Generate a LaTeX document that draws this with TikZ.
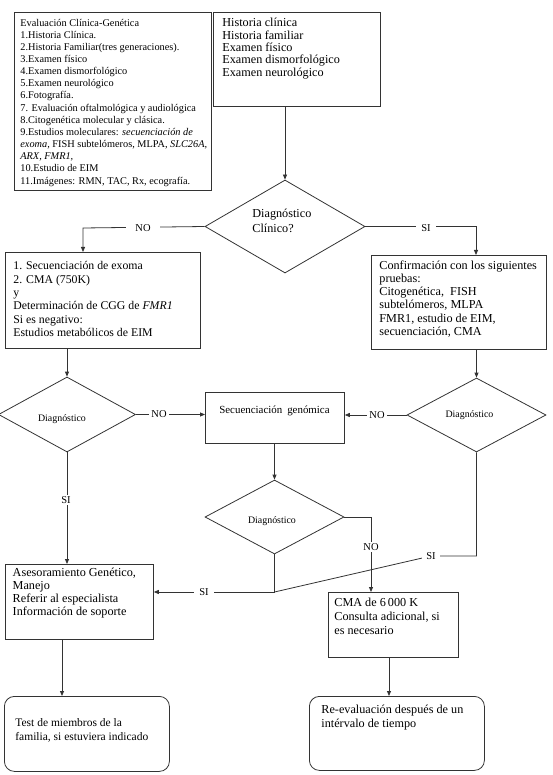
\documentclass[tikz,border=0pt]{standalone}
\usepackage{fontspec}
\setmainfont{Liberation Serif}
\usetikzlibrary{shapes.geometric,arrows.meta}
\begin{document}
\begin{tikzpicture}[x=1pt,y=-1pt,
  line width=0.8pt,
  box/.style={draw=black!80, rectangle, inner sep=0pt, anchor=north west},
  rbox/.style={box, rounded corners=10pt},
  dia/.style={draw=black!80, diamond, inner sep=0pt},
  txt/.style={anchor=north west, inner sep=0pt, align=left, font=\fontsize{12.2}{13.4}\selectfont},
  dtxt/.style={inner sep=0pt, font=\fontsize{9.9}{11}\selectfont},
  lab/.style={fill=white, inner xsep=3pt, inner ysep=1pt, font=\fontsize{10.5}{12}\selectfont},
  conn/.style={draw=black!80},
  arr/.style={conn, -{Triangle[length=5pt,width=4pt]}}]
\useasboundingbox (0,0) rectangle (553,775);

% boxes
\node[box, minimum width=197pt, minimum height=178pt] (b1) at (14,12) {};
\node[txt, font=\fontsize{10.3}{12.15}\selectfont] (b1t) at (20,18.5) {Evaluación Clínica-Genética\\1.Historia Clínica.\\2.Historia Familiar(tres generaciones).\\3.Examen físico\\4.Examen dismorfológico\\5.Examen neurológico\\6.Fotografía.\\7. Evaluación oftalmológica y audiológica\\8.Citogenética molecular y clásica.\\9.Estudios moleculares: \textit{secuenciación de}\\\textit{exoma,} FISH subtelómeros, MLPA, \textit{SLC26A,}\\\textit{ARX, FMR1,}\\10.Estudio de EIM\\11.Imágenes: RMN, TAC, Rx, ecografía.};

\node[box, minimum width=167pt, minimum height=94pt] (b2) at (213,12) {};
\node[txt, font=\fontsize{12.2}{12.3}\selectfont] (b2t) at (222,18) {Historia clínica\\Historia familiar\\Examen físico\\Examen dismorfológico\\Examen neurológico};

\node[dia, minimum width=160pt, minimum height=93pt] (d1) at (285,226.5) {};
\node[txt, font=\fontsize{12.2}{15}\selectfont] (d1t) at (252,208.4) {Diagnóstico\\Clínico?};

\node[box, minimum width=195pt, minimum height=96pt] (b3) at (5,252) {};
\node[txt, font=\fontsize{11.8}{13.4}\selectfont] (b3t) at (13,261) {1. Secuenciación de exoma\\2. CMA (750K)\\y\\Determinación de CGG de \textit{FMR1}\\Si es negativo:\\Estudios metabólicos de EIM};

\node[box, minimum width=175pt, minimum height=94pt] (b4) at (371,255) {};
\node[txt, font=\fontsize{12.2}{13.2}\selectfont] (b4t) at (379,260.4) {Confirmación con los siguientes\\pruebas:\\Citogenética,\ \ FISH\\subtelómeros, MLPA\\FMR1, estudio de EIM,\\secuenciación, CMA};

\node[dia, minimum width=137pt, minimum height=75pt] (d2) at (67,414.5) {};
\node[dtxt] (d2t) at (62,419) {Diagnóstico};

\node[dia, minimum width=139pt, minimum height=74pt] (d4) at (476.5,415) {};
\node[dtxt] (d4t) at (469.5,415) {Diagnóstico};

\node[box, minimum width=139pt, minimum height=51pt] (b5) at (205,392) {};
\node[inner sep=0pt, font=\fontsize{10.9}{12}\selectfont] (b5t) at (274.5,411) {Secuenciación\hspace{5pt}genómica};

\node[dia, minimum width=139pt, minimum height=74pt] (d3) at (274.5,517) {};
\node[dtxt] (d3t) at (272,521) {Diagnóstico};

\node[box, minimum width=130pt, minimum height=65pt] (b6) at (328,592) {};
\node[txt, font=\fontsize{12.2}{14}\selectfont] (b6t) at (334,597.4) {CMA de 6\,000 K\\Consulta adicional, si\\es necesario};

\node[box, minimum width=148pt, minimum height=75pt] (b7) at (5,564) {};
\node[txt, font=\fontsize{12.2}{12.8}\selectfont] (b7t) at (12.3,568) {Asesoramiento Genético,\\Manejo\\Referir al especialista\\Información de soporte};

\node[rbox, minimum width=165pt, minimum height=75pt] (r1) at (4,696) {};
\node[txt, font=\fontsize{11.5}{14}\selectfont] (r1t) at (15,718) {Test de miembros de la\\familia, si estuviera indicado};

\node[rbox, minimum width=175pt, minimum height=74pt] (r2) at (309,696) {};
\node[txt, font=\fontsize{12.2}{14}\selectfont] (r2t) at (321,704.4) {Re-evaluación después de un\\intérvalo de tiempo};

% helper coordinates
\coordinate (cNO) at (83,228);
\coordinate (cSI) at (476,255);
\coordinate (c2) at (371,592);
\coordinate (j) at (274.5,592);
\coordinate (c3) at (431,556);
\coordinate (x62) at (62,0);
\coordinate (x389) at (389,0);

% connectors
\draw[arr] (b2.south -| d1.north) -- (d1.north);
\draw[arr] (d1.west) -- (cNO) -- (cNO |- b3.north);
\draw[arr] (d1.east) -| (cSI);
\draw[arr] (b3.south -| d2.north) -- (d2.north);
\draw[arr] (b4.south -| d4.north) -- (d4.north);
\draw[arr] (d2.east) -- (d2.east -| b5.west);
\draw[arr] (d4.west) -- (d4.west -| b5.east);
\draw[arr] (b5.south -| d3.north) -- (d3.north);
\draw[arr] (d3.east) -| (c2);
\draw[arr] (d3.south) -- (j) -- (j -| b7.east);
\draw[conn] (d4.south) |- (c3) -- (j);
\draw[arr] (d2.south) -- (d2.south |- b7.north);
\draw[arr] (b7.south -| x62) -- (r1.north -| x62);
\draw[arr] (b6.south -| x389) -- (r2.north -| x389);

% labels
\node[lab, inner xsep=9pt] (l1) at (143,228) {NO};
\node[lab, inner xsep=5pt] (l2) at (426,228) {SI};
\node[lab, inner xsep=2pt] (l3) at (159,414.5) {NO};
\node[lab, inner xsep=2pt] (l4) at (377,415) {NO};
\node[lab] (l5) at (371,547) {NO};
\node[lab] (l6) at (66,500) {SI};
\node[lab, inner xsep=5pt] (l7) at (204,592) {SI};
\node[lab, inner xsep=4pt] (l8) at (431,556) {SI};
\end{tikzpicture}
\end{document}
